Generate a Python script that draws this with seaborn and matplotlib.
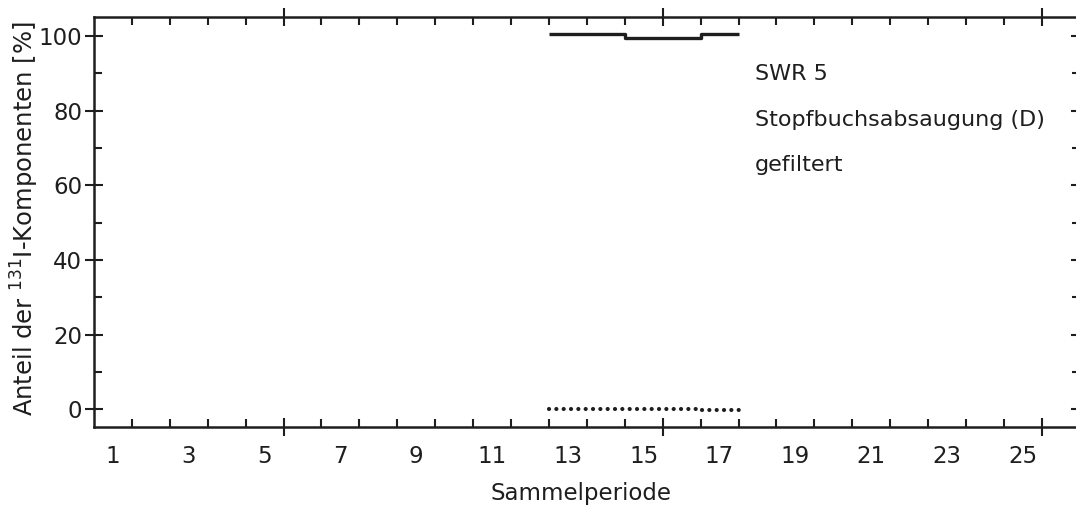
import numpy as np
import pandas as pd
import matplotlib
matplotlib.use("Agg")
import matplotlib.pyplot as plt
from matplotlib.ticker import FixedLocator, MultipleLocator
import seaborn as sns

# Collection periods with measured iodine fractions
periods = [13, 14, 15, 16, 17]
elemental_pct = [100.5, 100.5, 99.5, 99.5, 100.5]   # solid step line near 100 %
organic_pct = [0.0, 0.0, 0.0, 0.0, -0.3]            # dotted step line near 0 %

x_tick_labels = [str(v) for v in range(1, 26, 2)]
y_tick_values = [0, 20, 40, 60, 80, 100]
annotation = ["SWR 5", "Stopfbuchsabsaugung (D)", "gefiltert"]

sns.set_theme(style="white")
plt.rcParams["font.family"] = ["DejaVu Sans"]
ink = "#1e1e1e"
fs = 16.5


def stairs_frame(xs, ys):
    # each period covers [p - 0.5, p + 0.5]; repeat the last value to close the step
    edges = [p - 0.5 for p in xs] + [xs[-1] + 0.5]
    vals = list(ys) + [ys[-1]]
    return pd.DataFrame({"x": edges, "y": vals})


fig = plt.figure(figsize=(10.76, 5.08), dpi=100)
ax = fig.add_axes([0.0873, 0.1594, 0.9162, 0.8071])

sns.lineplot(data=stairs_frame(periods, elemental_pct), x="x", y="y", ax=ax,
             drawstyle="steps-post", color=ink, lw=2.4, solid_capstyle="butt")
sns.lineplot(data=stairs_frame(periods, organic_pct), x="x", y="y", ax=ax,
             drawstyle="steps-post", color=ink, lw=3.0,
             linestyle=(0, (0.01, 1.75)), dash_capstyle="round")

ax.set_xlim(0.5, 26.5)
ax.set_ylim(-4.8, 105.1)

for side in ["left", "right", "top", "bottom"]:
    ax.spines[side].set_visible(True)
    ax.spines[side].set_color(ink)
    ax.spines[side].set_linewidth(1.8)

# tick marks between periods; long crossing marks every ten periods
ax.xaxis.set_major_locator(FixedLocator([5.5, 15.5, 25.5]))
ax.xaxis.set_minor_locator(FixedLocator(np.arange(1.5, 26.5, 1.0)))
ax.yaxis.set_major_locator(FixedLocator(y_tick_values))
ax.yaxis.set_minor_locator(MultipleLocator(10))

ax.tick_params(axis="both", which="major", direction="inout", length=13, width=1.5,
               color=ink, top=True, right=True, bottom=True, left=True)
ax.tick_params(axis="both", which="minor", direction="in", length=6, width=1.5,
               color=ink, top=True, right=True, bottom=True, left=True)
ax.tick_params(axis="x", which="both", labelbottom=False)
ax.tick_params(axis="y", which="major", labelsize=fs, labelcolor=ink, pad=2)
ax.set_yticklabels([str(v) for v in y_tick_values])

# period numbers sit centred on each period
sec = ax.secondary_xaxis("bottom")
sec.set_xticks(range(1, 26, 2), labels=x_tick_labels)
sec.tick_params(length=0, labelsize=fs, labelcolor=ink, pad=13)
sec.spines["bottom"].set_visible(False)

ax.set_xlabel("")
ax.set_ylabel("Anteil der $^{131}$I-Komponenten [%]", fontsize=17.5, color=ink)
ax.yaxis.set_label_coords(-0.054, 0.509)
sec.set_xlabel("Sammelperiode", fontsize=fs, color=ink, labelpad=10, x=0.494)

for i, line in enumerate(annotation):
    ax.text(0.6706, [0.861, 0.749, 0.638][i], line, transform=ax.transAxes,
            fontsize=16, color=ink, va="center", ha="left")

fig.savefig("out.png", dpi=100, facecolor="white")
